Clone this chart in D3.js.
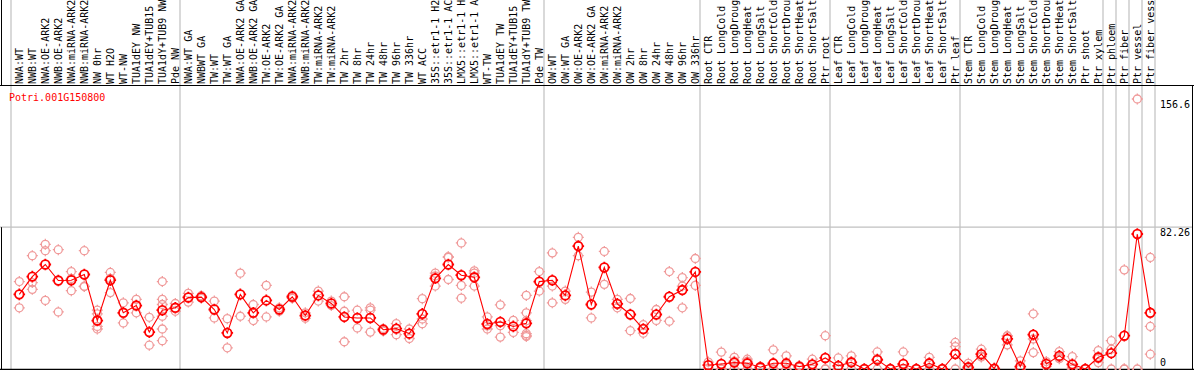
<!DOCTYPE html>
<html>
<head>
<meta charset="utf-8">
<script src="https://d3js.org/d3.v7.min.js"></script>
<style>
  body { margin: 0; background: #fff; }
  text { font-family: "DejaVu Sans Mono", "Liberation Mono", monospace; font-size: 10px; }
</style>
</head>
<body>
<script>
// sample labels, one per column
var labels = ["NWA:WT","NWB:WT","NWA:OE-ARK2","NWB:OE-ARK2","NWA:miRNA-ARK2","NWB:miRNA-ARK2","NW 0hr","WT H2O","WT-NW","TUA1dEY NW","TUA1dEY+TUB15 NW","TUA1dY+TUB9 NW","Pde NW",
  "NWA:WT GA","NWBWT GA","TW:WT","TW:WT GA","NWA:OE-ARK2 GA","NWB:OE-ARK2 GA","TW:OE-ARK2","TW:OE-ARK2 GA","NWA:miRNA-ARK2","NWB:miRNA-ARK2","TW:miRNA-ARK2","TW:miRNA-ARK2",
  "TW 2hr","TW 8hr","TW 24hr","TW 48hr","TW 96hr","TW 336hr","WT ACC","35S::etr1-1 H2O","35S::etr1-1 ACC","LMX5::etr1-1 H2O","LMX5::etr1-1 ACC","WT-TW","TUA1dEY TW","TUA1dEY+TUB15 TW","TUA1dY+TUB9 TW","Pde TW",
  "OW:WT","OW:WT GA","OW:OE-ARK2","OW:OE-ARK2 GA","OW:miRNA-ARK2","OW:miRNA-ARK2","OW 2hr","OW 8hr","OW 24hr","OW 48hr","OW 96hr","OW 336hr",
  "Root CTR","Root LongCold","Root LongDrought","Root LongHeat","Root LongSalt","Root ShortCold","Root ShortDrought","Root ShortHeat","Root ShortSalt","Ptr root",
  "Leaf CTR","Leaf LongCold","Leaf LongDrought","Leaf LongHeat","Leaf LongSalt","Leaf ShortCold","Leaf ShortDrought","Leaf ShortHeat","Leaf ShortSalt","Ptr leaf",
  "Stem CTR","Stem LongCold","Stem LongDrought","Stem LongHeat","Stem LongSalt","Stem ShortCold","Stem ShortDrought","Stem ShortHeat","Stem ShortSalt","Ptr shoot","Ptr xylem",
  "Ptr phloem","Ptr fiber","Ptr vessel","Ptr fiber vessel"];

// mean expression per sample
var means = [43.3,53.6,60.6,51.3,51.5,54.8,28.1,51.5,32.6,36.8,21.4,34.1,35.5,
  41.5,41.7,34.5,20.9,43.3,32.6,39.8,34.5,41.9,31.0,42.7,38.0,
  30.2,29.6,29.6,22.8,23.4,20.5,32.0,52.6,60.6,54.4,53.2,26.1,27.3,24.7,26.5,50.7,
  51.5,42.7,71.3,37.4,58.9,37.8,31.6,23.2,31.6,41.9,45.8,56.3,
  2.2,2.9,3.7,3.3,1.0,3.3,3.3,1.4,2.7,6.4,
  1.8,3.9,0,5.3,0,2.9,0,3.3,0,8.7,
  1.0,8.6,0.2,17.5,1.4,19.9,2.9,7.6,2.7,0,6.8,
  9.2,19.3,78.3,32.6];

// individual replicates per sample
var reps = [[50.7,35.5],[65.7,50.1,46.2],[72.3,68.6,39.8],[69.2,33.1],[56.5,45.4,52.5],[68.6,47.8,48],[34.1,32,24.7,23.2],[56,52.5,44.3],[38.4,26.7],[40.4,32.6],[30,13.8],[50.7,40.4,37.4,30.6,23.2,16.4],[38,33.5],
  [43.9,38.8],[41,42.5],[39.4,29.6],[29.2,12.3],[55.6,30.6],[37.4,28.1],[48.5,30.2],[35.5,33.5],[42.7,41],[32.6,29.4],[45.2,39.4],[39.4,36.8],
  [41.9,33.5,15.8],[34.1,23.8],[35.5,34.1,21.4],[23.5,22],[26.3,19.9],[23.2,17.7],[40.8,29,26.3],[55.6,54,48.1],[65.1,64.8,51.9],[73.1,48.5,41.1],[56.9,55.6,48.1],[30.2,25,23.2],[37.2,25.1,18.5],[28.2,21.2],[42.7,32.6,28,20.5,19.5,18.8],[56.5,45.2],
  [67.3,48.1,38.4],[45.2,40.4],[76.4,65.7],[44.6,29.6],[68.2,49.1],[40.4,35.5],[40.9,22.2],[25.7,20.8],[34.5,28.2],[56.5,27.7],[53,48.1,35.5],[64.1,48.5],
  [4,0.5],[9.8,0,0],[6.8,4.5,0],[5.7,4.5,0],[1.5,0.5],[11.1,0,0],[7.6,2.5,0],[2,1],[5.7,2.5,0],[19.3,0,0],
  [6.4,0,0],[7.6,4,0],[0,0],[9.9,6,0],[0,0],[9.9,0,0],[0,0],[6.8,3.5,0],[0,0],[15.4,13,0],
  [3.3,0],[11.5,7.4,7],[0.5,0],[19.3,19,14],[4.7,0],[32,17.4,9.5],[4.3,1.5],[10.1,6,6.7],[7.2,1,0],[0,0],[10.7,6,3.7],
  [16.4,11.5,0],[57.5,0,0],[156.6,0],[64.7,24.7,8.6]];

// last column index of each sample group
var groupEnds = [-1,12,40,52,62,72,83,84,85,86,87];
var yTicks = [0, 82.26, 156.6];
var geneId = "Potri.001G150800";

var W = 1194, H = 370;
var svg = d3.select("body").append("svg").attr("width", W).attr("height", H);

var x = d3.scaleLinear().domain([0, labels.length - 1]).range([19.3, 1150.3]);
var y = d3.scaleLinear().domain([0, 156.6]).range([369, 99]);

// group separators
svg.selectAll("line.sep").data(groupEnds).enter().append("line")
  .attr("x1", function(d) { return x(d) + 4.7; }).attr("x2", function(d) { return x(d) + 4.7; })
  .attr("y1", 0).attr("y2", H)
  .attr("stroke", "#c0c0c0").attr("stroke-width", 1.2);

// mid gridline
svg.append("line").attr("x1", 0).attr("x2", 1193).attr("y1", y(82.26)).attr("y2", y(82.26))
  .attr("stroke", "#c0c0c0").attr("stroke-width", 1.2);

// frame
svg.append("line").attr("x1", 0).attr("x2", 1194).attr("y1", 85.5).attr("y2", 85.5).attr("stroke", "#000");
svg.append("line").attr("x1", 0).attr("x2", 1194).attr("y1", 369.5).attr("y2", 369.5).attr("stroke", "#000").attr("stroke-width", 1.5);
svg.append("line").attr("x1", 1192.5).attr("x2", 1192.5).attr("y1", 85).attr("y2", H).attr("stroke", "#000");
svg.append("line").attr("x1", 1.5).attr("x2", 1.5).attr("y1", 0).attr("y2", 85).attr("stroke", "#000");
svg.append("line").attr("x1", 1.5).attr("x2", 1.5).attr("y1", y(82.26)).attr("y2", H).attr("stroke", "#000");

// column labels (the header only has room for 14 characters)
svg.selectAll("text.lab").data(labels).enter().append("text")
  .attr("transform", function(d, i) { return "translate(" + (x(i) + 4) + ",84) rotate(-90)"; })
  .attr("fill", "#000")
  .text(function(d) { return d.slice(0, 14).replace(/\s+$/, ""); });

svg.append("text").attr("x", 9).attr("y", 101).attr("fill", "#ff0000").text(geneId);

// right axis labels
svg.selectAll("text.yt").data(yTicks).enter().append("text")
  .attr("x", 1160)
  .attr("y", function(d) { return Math.min(y(d) + 9, 366); })
  .attr("fill", "#000")
  .text(function(d) { return d; });

function marker(r, t) {
  return "M" + r + ",0A" + r + "," + r + " 0 1,1 " + (-r) + ",0A" + r + "," + r + " 0 1,1 " + r + ",0" +
    "M0," + (-r) + "V" + (-r - t) + "M0," + r + "V" + (r + t) +
    "M" + (-r) + ",0H" + (-r - t) + "M" + r + ",0H" + (r + t);
}

// replicates
var repPts = [];
reps.forEach(function(rs, i) { rs.forEach(function(v) { repPts.push([i, v]); }); });
svg.selectAll("path.rep").data(repPts).enter().append("path")
  .attr("transform", function(d) { return "translate(" + x(d[0]) + "," + y(d[1]) + ")"; })
  .attr("d", marker(4, 1.5))
  .attr("fill", "none").attr("stroke", "#f09a9a").attr("stroke-width", 1.3);

// mean line
svg.append("path").datum(means)
  .attr("d", d3.line().x(function(d, i) { return x(i); }).y(function(d) { return y(d); }))
  .attr("fill", "none").attr("stroke", "#ff0000").attr("stroke-width", 1.1);

svg.selectAll("path.mean").data(means).enter().append("path")
  .attr("transform", function(d, i) { return "translate(" + x(i) + "," + y(d) + ")"; })
  .attr("d", marker(4.3, 1.5))
  .attr("fill", "none").attr("stroke", "#ff0000").attr("stroke-width", 1.8);
</script>
</body>
</html>
